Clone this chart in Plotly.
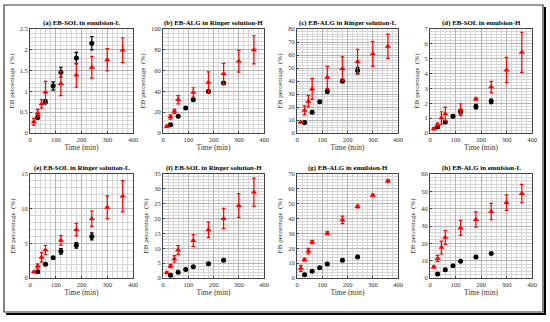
import plotly.graph_objects as go

W, H = 550, 322

titles = ["(a) EB-SOL in emulsion-L", "(b) EB-ALG in Ringer solution-H",
          "(c) EB-ALG in Ringer solution-L", "(d) EB-SOL in emulsion-H",
          "(e) EB-SOL in Ringer solution-L", "(f) EB-SOL in Ringer solution-H",
          "(g) EB-ALG in emulsion-H", "(h) EB-ALG in emulsion-L"]

t_black = [30, 60, 90, 120, 180, 240]
t_red = [15, 30, 45, 60, 120, 180, 240, 300, 360]

black_y = [
    [0.38, 0.75, 1.13, 1.46, 1.80, 2.16],
    [8, 16, 24, 32, 40, 48],
    [8, 16, 24, 32, 40, 48],
    [0.40, 0.74, 1.12, 1.44, 1.77, 2.13],
    [0.91, 1.97, 2.93, 3.85, 4.71, 6.0],
    [0.9, 1.9, 2.9, 3.8, 4.8, 6.0],
    [2.2, 4.5, 6.9, 9.4, 11.9, 14.1],
    [2.3, 4.8, 7.1, 9.6, 12.1, 14.2],
]
black_err = [
    [0.05, 0.05, 0.10, 0.12, 0.14, 0.16],
    [0.8, 0.8, 0.8, 1.0, 1.0, 1.2],
    [0.8, 0.8, 0.8, 1.2, 1.2, 2.5],
    [0.08, 0.1, 0.1, 0.15, 0.15, 0.15],
    [0.15, 0.15, 0.15, 0.4, 0.4, 0.5],
    [0.3, 0.3, 0.3, 0.3, 0.3, 0.3],
    [0.5, 0.5, 0.5, 0.6, 0.6, 0.6],
    [0.5, 0.5, 0.5, 0.5, 0.5, 0.5],
]
red_y = [
    [0.27, 0.48, 0.70, 0.98, 1.19, 1.39, 1.58, 1.76, 1.99],
    [6.4, 15.4, 20.8, 32, 39, 48.7, 57, 69, 80],
    [8.2, 17.4, 24.4, 33.8, 42.8, 49.5, 54.9, 60.8, 66.7],
    [0.29, 0.56, 1.01, 1.28, 1.57, 2.29, 3.1, 4.24, 5.43],
    [0.87, 1.73, 2.98, 4.04, 5.43, 6.97, 8.56, 10.2, 11.8],
    [1.8, 4.0, 6.4, 9.4, 12.6, 16.2, 20.0, 24.4, 28.9],
    [6.5, 12.3, 18.1, 24.2, 30.2, 39.1, 48.1, 55.7, 65.3],
    [6.3, 11.3, 17.6, 23.4, 28.9, 33.7, 38.3, 43.5, 48.7],
]
red_err = [
    [0.08, 0.09, 0.10, 0.26, 0.29, 0.29, 0.26, 0.27, 0.30],
    [1.0, 2.0, 2.0, 4.0, 4.5, 10, 10, 10.5, 13.5],
    [0.5, 3.5, 4.3, 8.0, 8.5, 9.0, 9.5, 9.6, 9.3],
    [0.08, 0.1, 0.42, 0.45, 0.4, 0.08, 0.38, 0.85, 1.35],
    [0.1, 0.3, 0.7, 0.65, 0.7, 0.9, 1.1, 1.65, 2.25],
    [0.3, 0.5, 1.1, 1.5, 2.0, 2.6, 3.4, 4.0, 4.7],
    [2.0, 1.0, 1.8, 1.0, 1.0, 2.5, 1.0, 0.8, 0.8],
    [0.5, 1.8, 3.7, 4.0, 4.3, 4.4, 4.7, 4.5, 5.3],
]
y_max = [2.5, 100, 80, 7, 15, 35, 70, 60]
y_dtick = [0.5, 20, 10, 1, 5, 5, 10, 10]
x_ticks = [0, 100, 200, 300, 400]

# pixel layout
col_px = [(30, 133), (163, 264), (297, 398), (430, 532)]
row_px = [(29, 133), (174, 278)]

FONT = "Liberation Serif"
fig = go.Figure()

for i in range(8):
    r, c = divmod(i, 4)
    n = i + 1
    xa = "x" if n == 1 else f"x{n}"
    ya = "y" if n == 1 else f"y{n}"
    fig.add_trace(go.Scatter(
        x=t_black, y=black_y[i], mode="markers", xaxis=xa, yaxis=ya,
        marker=dict(symbol="circle", size=5, color="black"),
        error_y=dict(type="data", array=black_err[i], color="black", thickness=1.2, width=1.8),
        showlegend=False))
    fig.add_trace(go.Scatter(
        x=t_red, y=red_y[i], mode="markers", xaxis=xa, yaxis=ya,
        marker=dict(symbol="triangle-up", size=5.5, color="red"),
        error_y=dict(type="data", array=red_err[i], color="red", thickness=1.2, width=1.8),
        showlegend=False))

    x0, x1 = col_px[c]
    y0, y1 = row_px[r]
    xd = [x0 / W, x1 / W]
    yd = [1 - y1 / H, 1 - y0 / H]
    common = dict(showline=True, linecolor="#444", linewidth=0.8, mirror=True,
                  ticks="inside", ticklen=2, tickcolor="#444", automargin=False,
                  tickfont=dict(family=FONT, size=6.5, color="#333333"),
                  showgrid=True, gridcolor="#b4b4b4", gridwidth=0.6, zeroline=False)
    xkey = "xaxis" if n == 1 else f"xaxis{n}"
    ykey = "yaxis" if n == 1 else f"yaxis{n}"
    fig.update_layout(**{
        xkey: dict(domain=xd, anchor=ya, range=[0, 400], tickvals=x_ticks,
                   title=dict(text="Time (min)", font=dict(family=FONT, size=7.5, color="#333333"), standoff=2),
                   minor=dict(dtick=20, showgrid=True, gridcolor="#d6d6d6", gridwidth=0.5),
                   **common),
        ykey: dict(domain=yd, anchor=xa, range=[0, y_max[i]], dtick=y_dtick[i],
                   title=dict(text="EB percentage  (%)", font=dict(family=FONT, size=7, color="#333333"), standoff=4),
                   minor=dict(dtick=y_dtick[i] / 5, showgrid=True, gridcolor="#d6d6d6", gridwidth=0.5),
                   **common),
    })
    fig.add_annotation(text=f"<b>{titles[i]}</b>", x=(x0 + x1) / 2 / W, y=1 - (y0 - 0.5) / H,
                       xref="paper", yref="paper", xanchor="center", yanchor="bottom",
                       showarrow=False, font=dict(family=FONT, size=6.9, color="#000000"))

# outer frame
fig.add_shape(type="rect", xref="paper", yref="paper",
              x0=4 / W, x1=543 / W, y0=1 - 312 / H, y1=1 - 5 / H,
              line=dict(color="#333", width=1.2))
fig.add_shape(type="line", xref="paper", yref="paper",
              x0=545 / W, x1=545 / W, y0=1 - 314.5 / H, y1=1 - 7 / H,
              line=dict(color="black", width=2))
fig.add_shape(type="line", xref="paper", yref="paper",
              x0=6 / W, x1=546 / W, y0=1 - 314 / H, y1=1 - 314 / H,
              line=dict(color="black", width=2))

fig.update_layout(width=W, height=H, margin=dict(l=0, r=0, t=0, b=0),
                  paper_bgcolor="white", plot_bgcolor="white",
                  font=dict(family=FONT, color="#000000"))
fig.write_html("out.html", config={"displayModeBar": False},
               post_script="document.body.style.margin='0';document.body.style.padding='0';")
